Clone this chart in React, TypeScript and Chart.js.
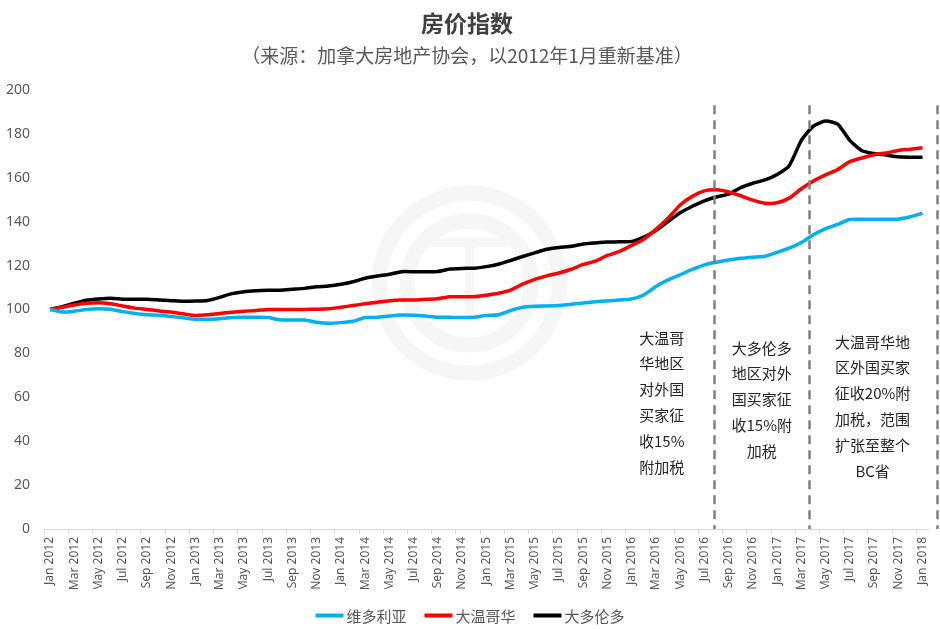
import React, { useEffect, useRef } from 'react';
import { Chart, registerables } from 'chart.js';

Chart.register(...registerables);

const categories = [
  'Jan 2012', 'Feb 2012', 'Mar 2012', 'Apr 2012', 'May 2012', 'Jun 2012', 'Jul 2012', 'Aug 2012', 'Sep 2012', 'Oct 2012', 'Nov 2012', 'Dec 2012',
  'Jan 2013', 'Feb 2013', 'Mar 2013', 'Apr 2013', 'May 2013', 'Jun 2013', 'Jul 2013', 'Aug 2013', 'Sep 2013', 'Oct 2013', 'Nov 2013', 'Dec 2013',
  'Jan 2014', 'Feb 2014', 'Mar 2014', 'Apr 2014', 'May 2014', 'Jun 2014', 'Jul 2014', 'Aug 2014', 'Sep 2014', 'Oct 2014', 'Nov 2014', 'Dec 2014',
  'Jan 2015', 'Feb 2015', 'Mar 2015', 'Apr 2015', 'May 2015', 'Jun 2015', 'Jul 2015', 'Aug 2015', 'Sep 2015', 'Oct 2015', 'Nov 2015', 'Dec 2015',
  'Jan 2016', 'Feb 2016', 'Mar 2016', 'Apr 2016', 'May 2016', 'Jun 2016', 'Jul 2016', 'Aug 2016', 'Sep 2016', 'Oct 2016', 'Nov 2016', 'Dec 2016',
  'Jan 2017', 'Feb 2017', 'Mar 2017', 'Apr 2017', 'May 2017', 'Jun 2017', 'Jul 2017', 'Aug 2017', 'Sep 2017', 'Oct 2017', 'Nov 2017', 'Dec 2017',
  'Jan 2018',
];

// 维多利亚
const victoria = [
  100, 98.8, 99.2, 100.0, 100.3, 100.1, 99.0, 98.2, 97.6, 97.4, 96.8, 96.2,
  95.5, 95.5, 95.8, 96.3, 96.4, 96.4, 96.3, 95.3, 95.2, 95.2, 94.2, 93.7,
  94.0, 94.6, 96.3, 96.4, 97.0, 97.5, 97.4, 97.0, 96.5, 96.4, 96.3, 96.4,
  97.3, 97.6, 99.5, 101.0, 101.5, 101.6, 101.8, 102.4, 102.9, 103.5, 103.9, 104.3,
  104.8, 106.6, 110.5, 113.5, 115.8, 118.2, 120.3, 121.5, 122.5, 123.3, 123.8, 124.2,
  126.0, 127.9, 130.5, 134.0, 136.8, 138.8, 141.0, 141.1, 141.1, 141.1, 141.1, 142.2,
  143.8,
];

// 大温哥华
const vancouver = [
  100, 101.0, 102.0, 102.8, 103.1, 102.6, 101.6, 100.6, 100.0, 99.3, 98.8, 98.0,
  97.3, 97.6, 98.2, 98.7, 99.2, 99.5, 100.0, 100.0, 100.0, 100.0, 100.1, 100.3,
  101.0, 101.8, 102.6, 103.3, 104.0, 104.3, 104.3, 104.6, 104.9, 105.8, 105.8, 105.8,
  106.5, 107.4, 108.8, 111.5, 113.7, 115.3, 116.6, 118.3, 120.5, 122.0, 124.6, 126.4,
  129.2, 132.0, 136.5, 141.5, 147.6, 151.5, 154.0, 154.5, 153.5, 151.8, 149.8, 148.4,
  148.6, 150.7, 155.0, 158.5, 161.3, 163.7, 167.3, 169.0, 170.5, 171.3, 172.4, 173.0,
  173.7,
];

// 大多伦多
const toronto = [
  100, 101.2, 102.8, 104.2, 104.8, 105.1, 104.7, 104.6, 104.6, 104.3, 104.0, 103.7,
  103.8, 104.1, 105.5, 107.2, 108.1, 108.5, 108.7, 108.8, 109.2, 109.6, 110.3, 110.7,
  111.5, 112.6, 114.2, 115.2, 116.0, 117.2, 117.2, 117.2, 117.3, 118.4, 118.7, 118.8,
  119.5, 120.6, 122.3, 124.1, 125.8, 127.4, 128.2, 128.8, 129.8, 130.3, 130.7, 130.8,
  131.0, 133.0, 136.0, 140.0, 144.0, 147.0, 149.5, 151.2, 152.5, 155.5, 157.5, 159.0,
  161.5, 165.5, 177.0, 183.5, 185.8, 184.4, 177.0, 172.3, 171.0, 170.3, 169.5, 169.3,
  169.3,
];

const seriesNames = ['维多利亚', '大温哥华', '大多伦多'];
const seriesColors = ['#00B0F0', '#FF0000', '#000000'];

const yMin = 0;
const yMax = 200;
const yStep = 20;

const titleText = '房价指数';
const subtitleText = '（来源：加拿大房地产协会，以2012年1月重新基准）';

// policy dates as fractional category positions (x) and top value
const policyLineX = [54.77, 62.6, 73.16];
const policyLineTop = 193;

const noteX = [50.48, 58.73, 67.88];
const noteY = [87.0, 82.5, 85.2];
const noteLines = [
  ['大温哥', '华地区', '对外国', '买家征', '收15%', '附加税'],
  ['大多伦多', '地区对外', '国买家征', '收15%附', '加税'],
  ['大温哥华地', '区外国买家', '征收20%附', '加税，范围', '扩张至整个', 'BC省'],
];

const watermarkX = 34.6;
const watermarkY = 112;

const FONT = "'Noto Sans', 'Noto Sans CJK SC', sans-serif";
const CJK = "'Noto Sans CJK SC', 'Noto Sans', sans-serif";

const decorPlugin = {
  id: 'decor',
  beforeDatasetsDraw(chart: any) {
    const { ctx, scales } = chart;
    const cx = scales.x.getPixelForValue(watermarkX);
    const cy = scales.y.getPixelForValue(watermarkY);
    ctx.save();
    ctx.strokeStyle = '#f6f6f6';
    ctx.lineWidth = 15;
    ctx.beginPath();
    ctx.arc(cx, cy, 90, 0, Math.PI * 2);
    ctx.stroke();
    ctx.beginPath();
    ctx.arc(cx, cy, 62, 0, Math.PI * 2);
    ctx.stroke();
    ctx.fillStyle = '#f6f6f6';
    ctx.fillRect(cx - 38, cy - 45, 76, 9);
    ctx.fillRect(cx - 4, cy - 45, 9, 80);
    ctx.restore();
  },
  afterDatasetsDraw(chart: any) {
    const { ctx, scales } = chart;
    ctx.save();
    ctx.strokeStyle = '#808080';
    ctx.lineWidth = 2.5;
    ctx.setLineDash([9, 6]);
    policyLineX.forEach((v) => {
      const px = Math.round(scales.x.getPixelForValue(v)) + 0.5;
      ctx.beginPath();
      ctx.moveTo(px, scales.y.getPixelForValue(policyLineTop));
      ctx.lineTo(px, scales.y.getPixelForValue(0));
      ctx.stroke();
    });
    ctx.setLineDash([]);
    ctx.fillStyle = '#262626';
    ctx.font = `15px ${CJK}`;
    ctx.textAlign = 'center';
    ctx.textBaseline = 'middle';
    noteLines.forEach((lines, k) => {
      const px = scales.x.getPixelForValue(noteX[k]);
      const py = scales.y.getPixelForValue(noteY[k]);
      lines.forEach((t, j) => ctx.fillText(t, px, py + j * 25.8));
    });
    ctx.restore();
  },
  afterDraw(chart: any) {
    const { ctx } = chart;
    ctx.save();
    ctx.font = `15px ${CJK}`;
    ctx.textBaseline = 'middle';
    ctx.textAlign = 'left';
    const boxW = 28;
    const gap = 3;
    const spacing = 18;
    const items = chart.data.datasets.map((ds: any) => ({
      label: ds.label,
      color: ds.borderColor,
      w: ctx.measureText(ds.label).width,
    }));
    const total = items.reduce((s: number, it: any) => s + boxW + gap + it.w, 0) + spacing * (items.length - 1);
    let x = (chart.width - total) / 2;
    const y = chart.height - 13.5;
    items.forEach((it: any) => {
      ctx.fillStyle = it.color;
      ctx.fillRect(x, y - 2, boxW, 4);
      ctx.fillStyle = '#595959';
      ctx.fillText(it.label, x + boxW + gap, y + 1);
      x += boxW + gap + it.w + spacing;
    });
    ctx.restore();
  },
};

export default function App() {
  const ref = useRef<HTMLCanvasElement | null>(null);

  useEffect(() => {
    if (!ref.current) return;
    const datasets = [victoria, vancouver, toronto].map((d, i) => ({
      label: seriesNames[i],
      data: d,
      borderColor: seriesColors[i],
      backgroundColor: seriesColors[i],
      borderWidth: 3.5,
      pointRadius: 0,
      pointHoverRadius: 0,
      tension: 0.2,
      fill: false,
    }));
    const chart = new Chart(ref.current, {
      type: 'line',
      data: { labels: categories, datasets },
      plugins: [decorPlugin],
      options: {
        responsive: false,
        animation: false,
        devicePixelRatio: 1,
        layout: { padding: { left: 5, right: 11, top: 0, bottom: 40 } },
        plugins: {
          legend: { display: false },
          tooltip: { enabled: false },
          title: {
            display: true,
            text: titleText,
            color: '#404040',
            font: { family: CJK, size: 23, weight: 'bold' },
            padding: { top: 9, bottom: 0 },
          },
          subtitle: {
            display: true,
            text: subtitleText,
            color: '#595959',
            font: { family: CJK, size: 19 },
            padding: { top: 8, bottom: 22.5 },
          },
        },
        scales: {
          x: {
            type: 'category',
            offset: true,
            afterFit(scale: any) {
              scale.height = 60;
            },
            grid: {
              offset: true,
              drawOnChartArea: false,
              drawTicks: true,
              tickLength: 5,
              color: (c: any) => (typeof c.index === 'number' && c.index % 2 === 0 ? '#d9d9d9' : 'rgba(0,0,0,0)'),
            },
            border: { display: true, color: '#d9d9d9', width: 1 },
            ticks: {
              autoSkip: false,
              minRotation: 90,
              maxRotation: 90,
              padding: 3,
              color: '#595959',
              font: { family: FONT, size: 12 },
              callback: (_v: any, i: number) => (i % 2 === 0 ? categories[i] : ''),
            },
          },
          y: {
            min: yMin,
            max: yMax,
            afterFit(scale: any) {
              scale.width = 39;
            },
            grid: { display: false, drawTicks: false },
            border: { display: false },
            ticks: {
              stepSize: yStep,
              padding: 14,
              color: '#595959',
              font: { family: FONT, size: 14 },
            },
          },
        },
      },
    });
    return () => chart.destroy();
  }, []);

  return (
    <div style={{ position: 'fixed', left: 0, top: 0, width: 940, height: 629, background: '#fff' }}>
      <canvas ref={ref} width={940} height={629} style={{ width: 940, height: 629, display: 'block' }} />
    </div>
  );
}
